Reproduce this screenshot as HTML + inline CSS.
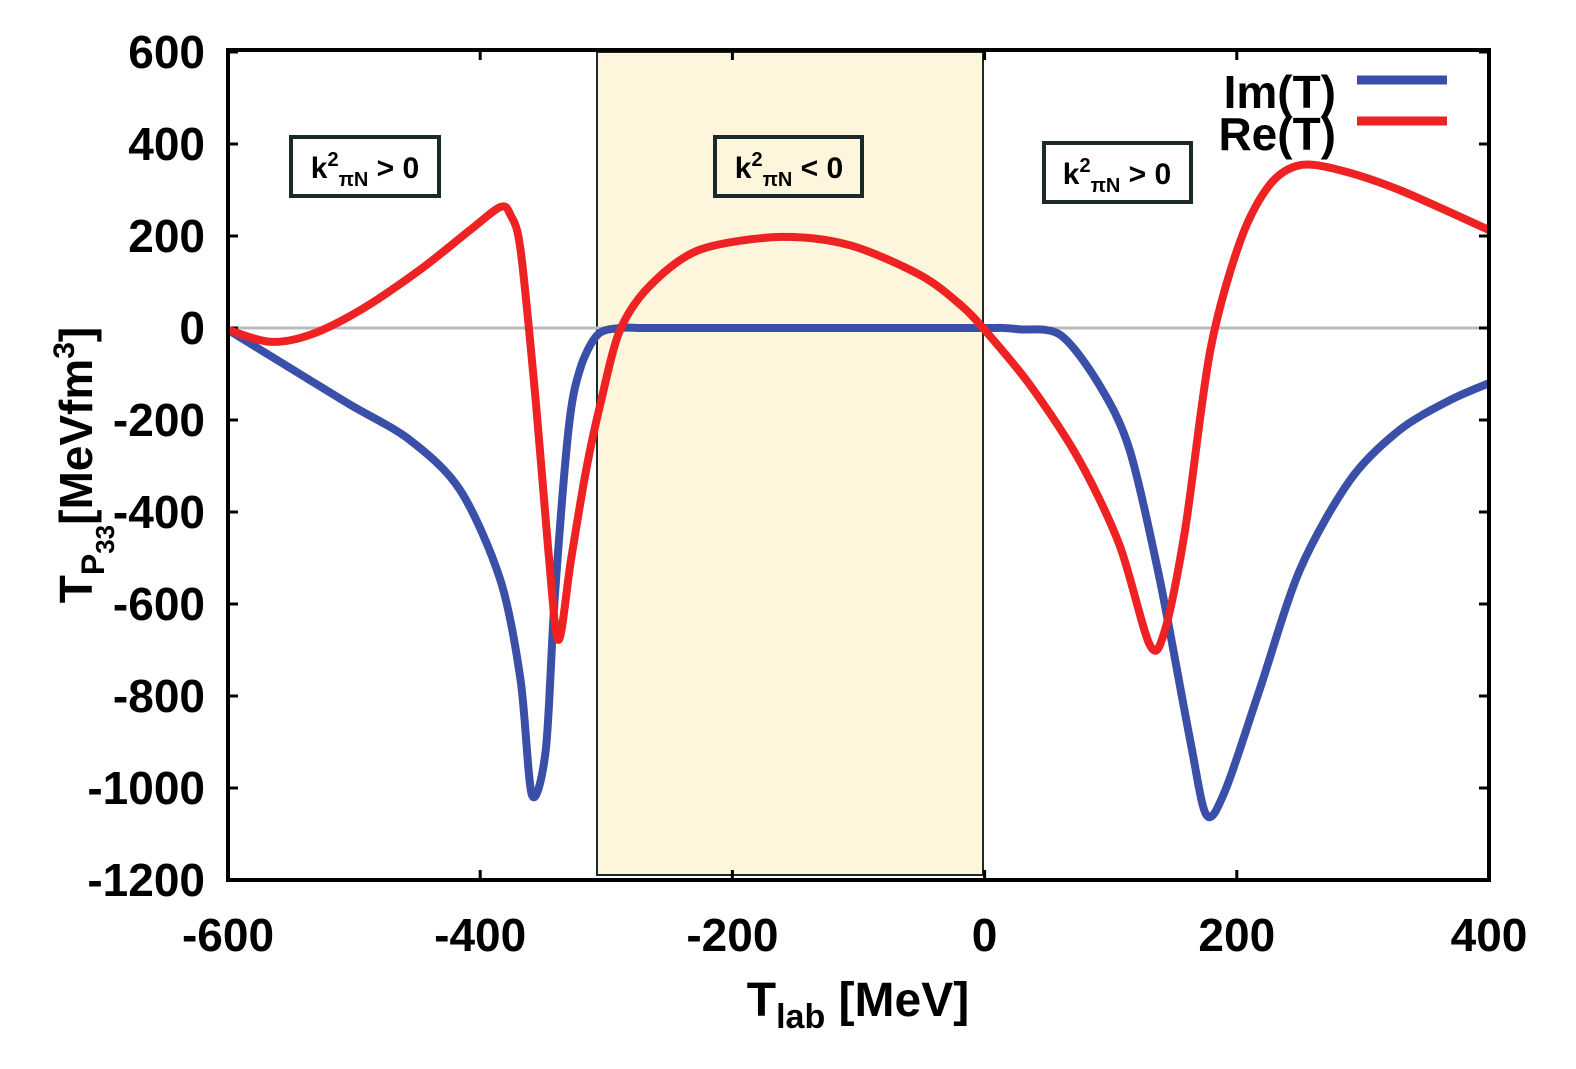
<!DOCTYPE html>
<html><head><meta charset="utf-8"><style>
body{margin:0;background:#fff;width:1576px;height:1069px;overflow:hidden}
svg{display:block;font-family:"Liberation Sans",Arial,sans-serif}
</style></head><body>
<svg id="chart" width="1576" height="1069" viewBox="0 0 1576 1069" xmlns="http://www.w3.org/2000/svg">
<rect x="597" y="52" width="386" height="823" fill="#fdf6dc" stroke="#1a2a2a" stroke-width="2"/>
<line x1="228" y1="328" x2="1489" y2="328" stroke="#bbb" stroke-width="3"/>
<g id="ticks"></g>
<g id="series"></g>
<rect x="228" y="50" width="1261" height="830" fill="none" stroke="#000" stroke-width="4"/>
<g id="labels" font-weight="bold" font-size="46"></g>
<text x="858" y="1016" text-anchor="middle" font-size="48" font-weight="bold">T<tspan font-size="34" dy="12">lab</tspan><tspan dy="-12"> [MeV]</tspan></text>
<text transform="translate(92,465) rotate(-90)" text-anchor="middle" font-size="46" font-weight="bold">T<tspan font-size="32" dy="12">P</tspan><tspan font-size="26" dy="10">33</tspan><tspan dy="-22">[MeVfm</tspan><tspan font-size="30" dy="-18">3</tspan><tspan dy="18">]</tspan></text>
<g font-size="46" font-weight="bold">
<text x="1336" y="108" text-anchor="end">Im(T)</text>
<line x1="1357" y1="80" x2="1447" y2="80" stroke="#3a4fa8" stroke-width="9"/>
<text x="1336" y="150" text-anchor="end">Re(T)</text>
<line x1="1357" y1="121" x2="1447" y2="121" stroke="#ee2222" stroke-width="9"/>
</g>
<g font-size="30" font-weight="bold">
<rect x="291" y="137" width="148" height="59" fill="#fff" stroke="#1a2a2a" stroke-width="4"/>
<text x="365" y="178" text-anchor="middle">k<tspan font-size="20" dy="-12">2</tspan><tspan font-size="20" dy="20">πN</tspan><tspan dy="-8"> &gt; 0</tspan></text>
<rect x="715" y="137" width="147" height="59" fill="#fdf6dc" stroke="#1a2a2a" stroke-width="4"/>
<text x="789" y="178" text-anchor="middle">k<tspan font-size="20" dy="-12">2</tspan><tspan font-size="20" dy="20">πN</tspan><tspan dy="-8"> &lt; 0</tspan></text>
<rect x="1044" y="143" width="147" height="59" fill="#fff" stroke="#1a2a2a" stroke-width="4"/>
<text x="1117" y="184" text-anchor="middle">k<tspan font-size="20" dy="-12">2</tspan><tspan font-size="20" dy="20">πN</tspan><tspan dy="-8"> &gt; 0</tspan></text>
</g>
</svg>
<script>
const xTicks=[-600,-400,-200,0,200,400];
const yTicks=[600,400,200,0,-200,-400,-600,-800,-1000,-1200];
const imX=[-600,-543,-503,-456,-416,-384,-368,-359,-348,-341,-330,-321,-307,-289,-270,-200,-100,0,15,28,60,91,115,139,163,176,191,218,250,290,329,369,400];
const imY=[-4,-100,-167,-243,-352,-548,-765,-1015,-917,-591,-222,-91,-15,0,0,0,0,0,0,-3,-15,-124,-265,-548,-896,-1059,-1004,-787,-526,-330,-222,-157,-120];
const reX=[-600,-567,-535,-495,-448,-408,-384,-376,-368,-356,-346,-338,-328,-316,-304,-289,-265,-226,-162,-107,-51,-19,0,36,75,107,131,143,159,179,203,226,250,282,329,400];
const reY=[-4,-30,-15,39,126,213,263,246,170,-157,-483,-678,-504,-309,-157,-4,93,170,198,180,115,50,-4,-124,-287,-472,-689,-657,-439,-48,191,311,354,343,300,213];
const X=v=>228+(v+600)*1.261;
const Y=v=>328-v*0.46;
const NS="http://www.w3.org/2000/svg";
const tk=document.getElementById('ticks'),lb=document.getElementById('labels'),sr=document.getElementById('series');
function mk(t,a,p){const e=document.createElementNS(NS,t);for(const k in a)e.setAttribute(k,a[k]);p.appendChild(e);return e;}
xTicks.forEach(v=>{
 const l=mk('path',{d:`M${X(v)},880v-10M${X(v)},50v10`,stroke:'#000','stroke-width':3},tk);
 
 
 const t=mk('text',{x:X(v),y:951,'text-anchor':'middle'},lb);t.textContent=v;
 
 
});
yTicks.forEach(v=>{
 const l=mk('path',{d:`M228,${Y(v)}h10M1489,${Y(v)}h-10`,stroke:'#000','stroke-width':3},tk);
 
 
 const t=mk('text',{x:205,y:Y(v)+16,'text-anchor':'end'},lb);t.textContent=v;
 
 
});
function line(xs,ys,c,name){
 const P=xs.map((x,i)=>[X(x),Y(ys[i])]);
 let d='M'+P[0][0]+','+P[0][1];
 for(let i=0;i<P.length-1;i++){
  const p0=P[Math.max(i-1,0)],p1=P[i],p2=P[i+1],p3=P[Math.min(i+2,P.length-1)];
  const t=0.15;
  d+=` C${p1[0]+(p2[0]-p0[0])*t},${p1[1]+(p2[1]-p0[1])*t} ${p2[0]-(p3[0]-p1[0])*t},${p2[1]-(p3[1]-p1[1])*t} ${p2[0]},${p2[1]}`;
 }
 const p=mk('path',{d:d,fill:'none',stroke:c,'stroke-width':8,'stroke-linejoin':'round'},sr);
 
 
}
line(imX,imY,'#3a4fa8','im-t-line');
line(reX,reY,'#ee2222','re-t-line');
</script>
</body></html>
